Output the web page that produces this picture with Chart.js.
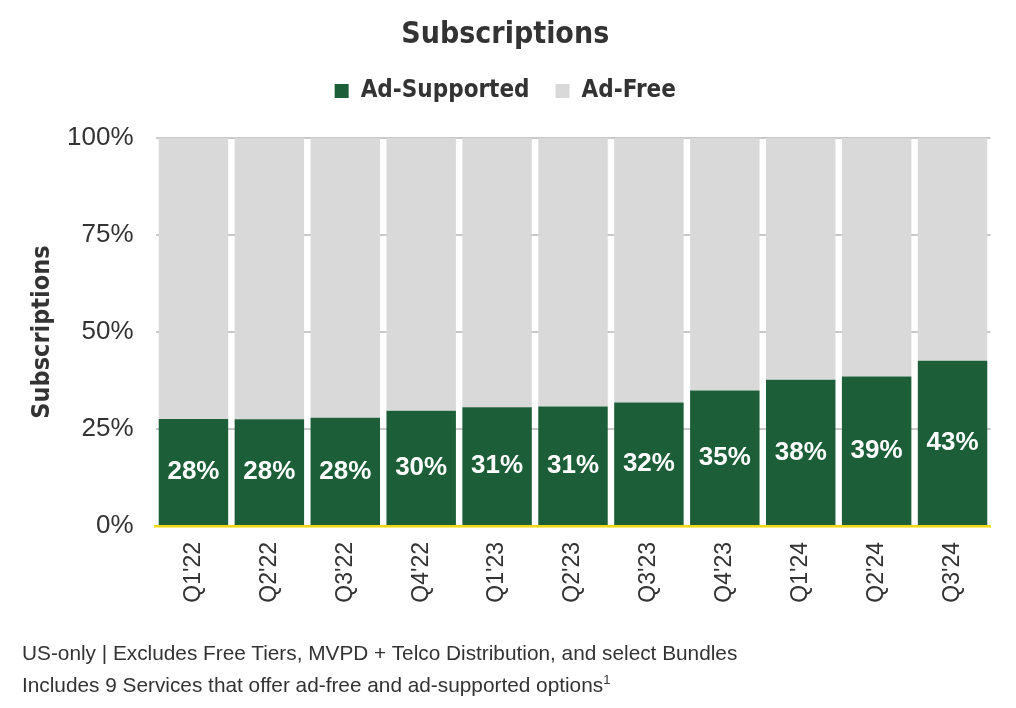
<!DOCTYPE html>
<html lang="en">
<head>
<meta charset="UTF-8">
<title>Subscriptions</title>
<script src="https://cdn.jsdelivr.net/npm/chart.js"></script>
<style>
    html, body { margin: 0; padding: 0; background: #fff; }
    #wrap { position: relative; width: 1016px; height: 708px; }
    #note {
        position: absolute; left: 22px; top: 639px;
        font-family: "Liberation Sans", Arial, sans-serif;
        font-size: 20.8px; line-height: 27px; color: #333;
    }
    #note sup { font-size: 13px; }
</style>
</head>
<body>
<div id="wrap">
    <canvas id="chart" width="1016" height="708"></canvas>
    <div id="note">
        US-only | Excludes Free Tiers, MVPD + Telco Distribution, and select Bundles<br>
        Includes 9 Services that offer ad-free and ad-supported options<sup>1</sup>
    </div>
</div>
<script>
    // data
    const quarters = ["Q1'22", "Q2'22", "Q3'22", "Q4'22", "Q1'23", "Q2'23", "Q3'23", "Q4'23", "Q1'24", "Q2'24", "Q3'24"];
    const adSupported = [27.6, 27.5, 27.9, 29.7, 30.6, 30.8, 31.8, 34.9, 37.7, 38.5, 42.6];
    const adFree = adSupported.map(v => 100 - v);
    const yTicks = [0, 25, 50, 75, 100];

    const GREEN = '#1b5e37';
    const GREY = '#d9d9d9';
    const condensed = '"DejaVu Sans Condensed", "Liberation Sans", Arial, sans-serif';
    const plain = '"Liberation Sans", Arial, sans-serif';

    // white % labels in the middle of the green bars
    const barLabels = {
        id: 'barLabels',
        afterDatasetsDraw(chart) {
            const ctx = chart.ctx;
            const meta = chart.getDatasetMeta(0);
            ctx.save();
            ctx.fillStyle = '#fff';
            ctx.font = 'bold 26px ' + plain;
            ctx.textAlign = 'center';
            ctx.textBaseline = 'middle';
            meta.data.forEach((bar, i) => {
                const y = (bar.y + bar.base) / 2;
                ctx.fillText(Math.round(adSupported[i]) + '%', bar.x, y);
            });
            ctx.restore();
        }
    };

    // extra space under the legend, items stay where they are
    const legendGap = {
        id: 'legendGap',
        beforeLayout(chart) {
            const lg = chart.legend;
            if (lg && !lg._gapPatched) {
                const fit = lg.fit;
                lg.fit = function () {
                    fit.apply(this, arguments);
                    this.height += 25;
                };
                lg._gapPatched = true;
            }
        }
    };

    new Chart(document.getElementById('chart'), {
        type: 'bar',
        data: {
            labels: quarters,
            datasets: [
                { label: 'Ad-Supported', data: adSupported, backgroundColor: GREEN },
                { label: 'Ad-Free', data: adFree, backgroundColor: GREY }
            ]
        },
        options: {
            responsive: false,
            animation: false,
            layout: { padding: { top: 10, right: 25.5, bottom: 72, left: 20 } },
            datasets: { bar: { categoryPercentage: 1, barPercentage: 0.915 } },
            plugins: {
                title: {
                    display: true,
                    text: 'Subscriptions',
                    color: '#333',
                    font: { family: condensed, size: 30, weight: 'bold', lineHeight: 1.2 },
                    padding: { top: 7, bottom: 0 }
                },
                legend: {
                    display: true,
                    labels: {
                        color: '#333',
                        boxWidth: 14, boxHeight: 14,
                        padding: 26,
                        font: { family: condensed, size: 24, weight: 'bold' }
                    }
                },
                tooltip: { enabled: false }
            },
            scales: {
                x: {
                    stacked: true,
                    grid: { display: false },
                    border: { display: true, color: '#f2d813', width: 2.5 },
                    ticks: {
                        color: '#333', maxRotation: 90, minRotation: 90,
                        padding: 8,
                        font: { family: plain, size: 23 }
                    },
                    afterFit(scale) { scale.height = 110; }
                },
                y: {
                    stacked: true,
                    min: 0, max: 100,
                    afterBuildTicks(scale) { scale.ticks = yTicks.map(v => ({ value: v })); },
                    grid: { color: '#c8c8c8', lineWidth: 2, drawTicks: false, tickLength: 0 },
                    border: { display: false },
                    ticks: {
                        color: '#333', padding: 22,
                        font: { family: plain, size: 26 },
                        callback: v => v + '%'
                    },
                    title: {
                        display: true,
                        text: 'Subscriptions',
                        color: '#333',
                        font: { family: condensed, size: 25, weight: 'bold' },
                        padding: { top: 7, bottom: 0 }
                    },
                    afterFit(scale) { scale.width = 135.5; }
                }
            }
        },
        plugins: [barLabels, legendGap]
    });
</script>
</body>
</html>
